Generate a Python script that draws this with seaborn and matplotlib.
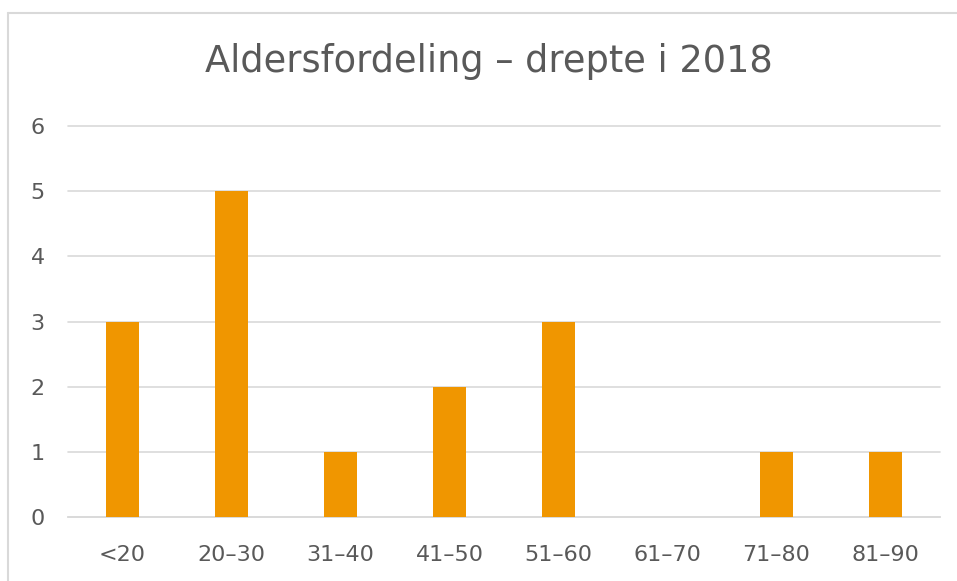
import matplotlib.pyplot as plt
import seaborn as sns
import pandas as pd
from matplotlib.lines import Line2D

# Data
categories = ["<20", "20–30", "31–40", "41–50", "51–60", "61–70", "71–80", "81–90"]
counts = [3, 5, 1, 2, 3, 0, 1, 1]
yticks = [0, 1, 2, 3, 4, 5, 6]

df = pd.DataFrame({"alder": categories, "antall": counts})

sns.set_style("white")
plt.rcParams['font.family'] = ['DejaVu Sans']

text_col = "#595959"
grid_col = "#D9D9D9"
bar_col = "#F09600"

fig = plt.figure(figsize=(9.57, 5.81), dpi=100)
ax = fig.add_axes([68 / 957, 1 - 517 / 581, 872 / 957, 391 / 581])

sns.barplot(data=df, x="alder", y="antall", color=bar_col, width=0.31,
            saturation=1, linewidth=0, ax=ax, zorder=3)

ax.set_ylim(0, 6)
ax.set_yticks(yticks)
ax.set_xlim(-0.5, len(categories) - 0.5)
ax.yaxis.grid(True, color=grid_col, linewidth=1.2, zorder=0)
for gl in ax.get_ygridlines():
    gl.set_clip_on(False)
ax.set_axisbelow(True)
for side in ["top", "right", "left"]:
    ax.spines[side].set_visible(False)
ax.spines["bottom"].set_color(grid_col)
ax.spines["bottom"].set_linewidth(1.2)

ax.set_xlabel("")
ax.set_ylabel("")
ax.tick_params(axis="both", length=0, labelsize=16, labelcolor=text_col)
ax.tick_params(axis="x", pad=20)
ax.tick_params(axis="y", pad=27)
for lbl in ax.get_yticklabels():
    lbl.set_horizontalalignment("left")

fig.text(489 / 957, 1 - 62 / 581, "Aldersfordeling – drepte i 2018",
         ha="center", va="center", fontsize=26.5, color=text_col)

# light border of the chart area
fig.add_artist(Line2D([8 / 957, 8 / 957], [0, 1 - 13 / 581],
                      color=grid_col, linewidth=1.5, transform=fig.transFigure))
fig.add_artist(Line2D([8 / 957, 1], [1 - 13 / 581, 1 - 13 / 581],
                      color=grid_col, linewidth=1.5, transform=fig.transFigure))

fig.savefig("out.png", dpi=100)
